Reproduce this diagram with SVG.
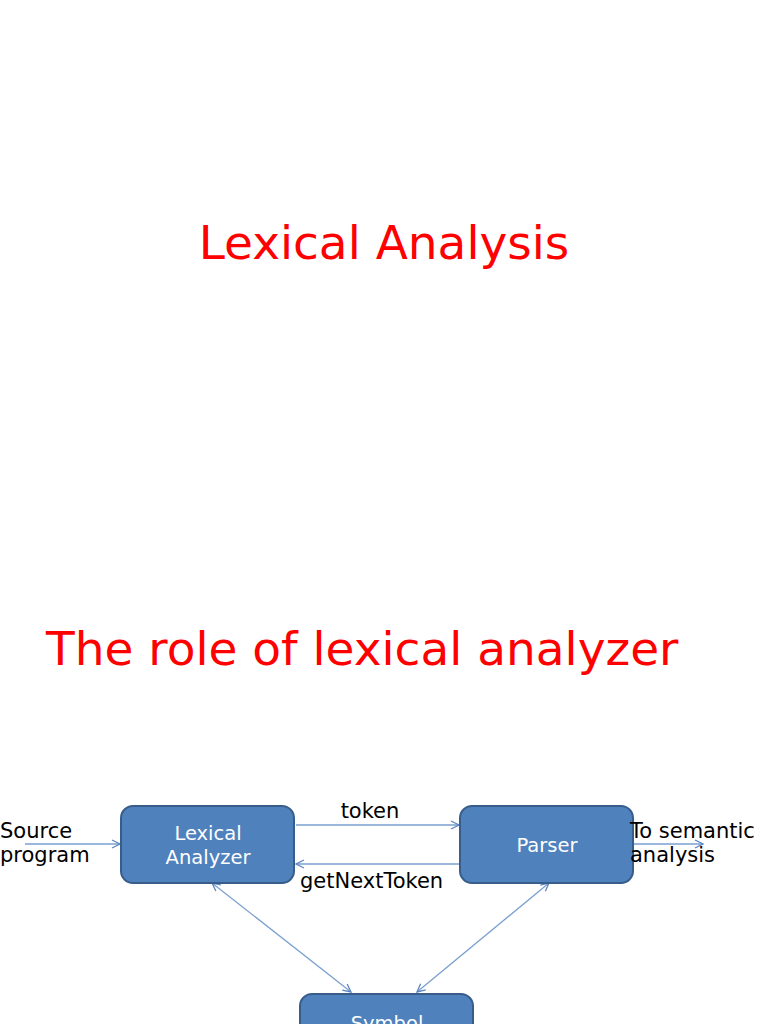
<svg xmlns="http://www.w3.org/2000/svg" width="768" height="1024" viewBox="0 0 768 1024">
<style>
.title{font-family:"DejaVu Sans",sans-serif;fill:#ff0000;font-size:47px}
.lbl{font-family:"DejaVu Sans",sans-serif;fill:#000;font-size:21px}
.box{fill:#4f81bd;stroke:#385d8a;stroke-width:2}
.bt{font-family:"DejaVu Sans",sans-serif;fill:#fff;font-size:19.5px;text-anchor:middle}
.ln{stroke:#7a9fd0;stroke-width:1.3;fill:none}
</style>
<defs>
<marker id="ah" viewBox="0 0 10 10" refX="9" refY="5" markerWidth="10" markerHeight="10" markerUnits="userSpaceOnUse" orient="auto-start-reverse">
<path d="M1,1 L9,5 L1,9" fill="none" stroke="#5b85c0" stroke-width="1.3"/>
</marker>
</defs>
<rect width="768" height="1024" fill="#fff"/>
<text class="title" x="384" y="259" text-anchor="middle">Lexical Analysis</text>
<text class="title" x="46" y="665">The role of lexical analyzer</text>
<g id="connectors">
<line class="ln" x1="25" y1="844" x2="120" y2="844" marker-end="url(#ah)"/>
<line class="ln" x1="296" y1="825" x2="459" y2="825" marker-end="url(#ah)"/>
<line class="ln" x1="459" y1="864" x2="296" y2="864" marker-end="url(#ah)"/>
<line class="ln" x1="634" y1="844" x2="703" y2="844" marker-end="url(#ah)"/>
<line class="ln" x1="212" y1="883" x2="351" y2="992" marker-start="url(#ah)" marker-end="url(#ah)"/>
<line class="ln" x1="549" y1="883" x2="417" y2="992" marker-start="url(#ah)" marker-end="url(#ah)"/>
</g>
<g id="lexer">
<rect class="box" x="121" y="806" width="173" height="77" rx="12"/>
<text class="bt" x="208" y="840">Lexical</text>
<text class="bt" x="208" y="864">Analyzer</text>
</g>
<g id="parser">
<rect class="box" x="460" y="806" width="173" height="77" rx="12"/>
<text class="bt" x="547" y="852">Parser</text>
</g>
<g id="symbol">
<rect class="box" x="300" y="994" width="173" height="77" rx="12"/>
<text class="bt" x="387" y="1030">Symbol</text>
</g>
<g id="labels">
<text class="lbl" x="370" y="818" text-anchor="middle">token</text>
<text class="lbl" x="300" y="888">getNextToken</text>
<text class="lbl" x="0" y="838">Source</text>
<text class="lbl" x="0" y="862">program</text>
<text class="lbl" x="630" y="838">To semantic</text>
<text class="lbl" x="630" y="862">analysis</text>
</g>
</svg>
